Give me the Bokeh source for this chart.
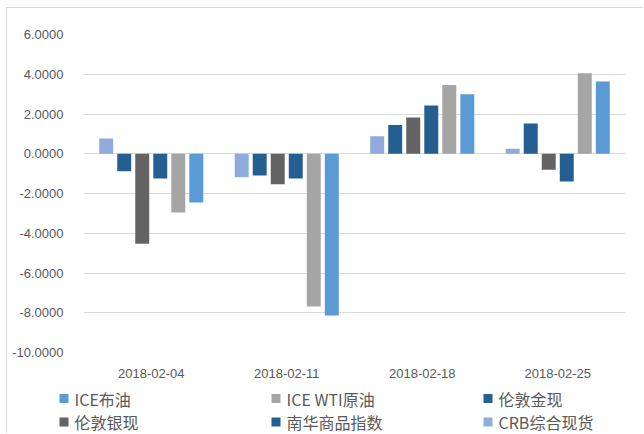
from bokeh.plotting import figure
from bokeh.layouts import column, row
from bokeh.models import ColumnDataSource, FactorRange, Range1d, NumeralTickFormatter, FixedTicker
from bokeh.core.properties import value
from bokeh.transform import dodge
from bokeh.embed import file_html
from bokeh.resources import INLINE

dates = ["2018-02-04", "2018-02-11", "2018-02-18", "2018-02-25"]
crb = [0.77, -1.18, 0.88, 0.25]
nanhua = [-0.88, -1.10, 1.45, 1.52]
silver = [-4.53, -1.54, 1.82, -0.80]
gold = [-1.25, -1.25, 2.43, -1.40]
wti = [-2.96, -7.68, 3.46, 4.05]
brent = [-2.45, -8.14, 3.00, 3.63]

series_names = ["CRB综合现货", "南华商品指数", "伦敦银现", "伦敦金现", "ICE WTI原油", "ICE布油"]
series_keys = ["crb", "nanhua", "silver", "gold", "wti", "brent"]
series_colors = ["#8FAADC", "#255E91", "#636363", "#255E91", "#A5A5A5", "#5B9BD5"]
legend_order = ["ICE布油", "ICE WTI原油", "伦敦金现", "伦敦银现", "南华商品指数", "CRB综合现货"]
y_ticks = [6, 4, 2, 0, -2, -4, -6, -8, -10]

W = 636
source = ColumnDataSource(dict(date=dates, crb=crb, nanhua=nanhua, silver=silver,
                               gold=gold, wti=wti, brent=brent))

p = figure(width=W, height=374, x_range=FactorRange(factors=dates),
           y_range=Range1d(-10, 6), output_backend="svg", toolbar_location=None,
           min_border_left=76, min_border_right=18, min_border_top=26, min_border_bottom=30)
p.outline_line_color = None
p.background_fill_color = "white"
p.border_fill_color = "white"

step = 0.133
for i, (key, color) in enumerate(zip(series_keys, series_colors)):
    off = (i - 2.5) * step
    p.vbar(x=dodge("date", off, range=p.x_range), top=key, bottom=0, width=0.103,
           source=source, fill_color=color, line_color=None)

p.xgrid.grid_line_color = None
p.ygrid.grid_line_color = "#d9d9d9"
p.ygrid.grid_line_width = 1
p.yaxis.ticker = FixedTicker(ticks=y_ticks)
p.yaxis.formatter = NumeralTickFormatter(format="0.0000")
for ax in (p.xaxis, p.yaxis):
    ax.axis_line_color = None
    ax.major_tick_line_color = None
    ax.minor_tick_line_color = None
    ax.major_label_text_color = "#595959"
    ax.major_label_text_font = "Liberation Sans"
    ax.major_label_text_font_size = "13px"
p.yaxis.major_label_standoff = 14
p.xaxis.major_label_standoff = 10

# legend as its own strip below the chart (data units = pixels of the strip)
LH = 51
lf = figure(width=W, height=LH, x_range=Range1d(0, W), y_range=Range1d(LH, 0),
            output_backend="svg", toolbar_location=None, min_border=0,
            x_axis_location=None, y_axis_location=None)
lf.grid.visible = False
lf.outline_line_color = None
lf.border_fill_color = "white"
color_of = dict(zip(series_names, series_colors))
cols = [i % 3 for i in range(len(legend_order))]
rows = [i // 3 for i in range(len(legend_order))]
lsrc = ColumnDataSource(dict(
    sx=[56.5 + 212 * c for c in cols],
    tx=[67 + 212 * c for c in cols],
    y=[16 + 23.5 * r for r in rows],
    label=legend_order,
    color=[color_of[n] for n in legend_order],
))
lf.rect(x="sx", y="y", width=9, height=9, source=lsrc, fill_color="color", line_color=None)
lf.text(x="tx", y="y", text="label", source=lsrc, text_font=value("Noto Sans CJK SC"),
        text_font_size="16px", text_color="#595959", text_baseline="middle", text_align="left")

layout = column(p, row(lf, spacing=0), spacing=0, margin=(7, 0, 0, 6),
                styles={"border-left": "1px solid #d9d9d9", "border-top": "1px solid #d9d9d9"})
open("out.html", "w").write(file_html(layout, INLINE))
